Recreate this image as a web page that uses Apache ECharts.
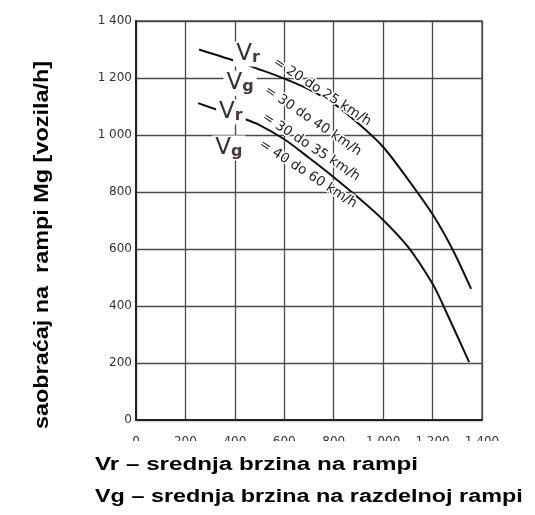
<!DOCTYPE html>
<html>
<head>
<meta charset="utf-8">
<script src="https://cdn.jsdelivr.net/npm/echarts@6/dist/echarts.min.js"></script>
<style>
  html, body { margin: 0; padding: 0; background: #fff; }
  #chart { width: 535px; height: 515px; }
</style>
</head>
<body>
<div id="chart"></div>
<script>
// Ramp capacity curves: flow on the ramp Mg [veh/h] against main flow
const xTicks = [0, 200, 400, 600, 800, 1000, 1200, 1400];
const yTicks = [0, 200, 400, 600, 800, 1000, 1200, 1400];

// Vr = 20..25 km/h, Vg = 30..40 km/h
const upperX = [255, 400, 500, 600, 700, 800, 900, 1000, 1100, 1200, 1280, 1356];
const upperY = [1300, 1260, 1230, 1198, 1160, 1110, 1040, 958, 845, 722, 600, 460];

// Vr = 30..35 km/h, Vg = 40..60 km/h
const lowerX = [251, 330, 433, 500, 600, 700, 800, 900, 1000, 1100, 1200, 1240, 1348];
const lowerY = [1112, 1088, 1058, 1035, 985, 920, 852, 780, 702, 608, 478, 408, 203];

const curveNotes = ['= 20 do 25 km/h', '= 30 do 40 km/h', '= 30 do 35 km/h', '= 40 do 60 km/h'];
const speedSymbols = [['V', 'r'], ['V', 'g'], ['V', 'r'], ['V', 'g']];

const yTitle = 'saobraćaj na  rampi Mg [vozila/h]';
const legendLines = ['Vr – srednja brzina na rampi', 'Vg – srednja brzina na razdelnoj rampi'];

// placement of the curve annotations, in axis units
const notePlace = [
  { at: [753, 1151], angle: 33 },
  { at: [716, 1049], angle: 34 },
  { at: [708, 958], angle: 33 },
  { at: [696, 863], angle: 33 }
];
const symbolPlace = [[453, 1284], [421, 1182], [384, 1081], [376, 954]];
const legendStretch = [1.345, 1.3];

const zip = (xs, ys) => xs.map((x, i) => [x, ys[i]]);
const fmt = v => v >= 1000 ? String(v).replace(/(\d)(\d{3})$/, '$1 $2') : String(v);

const chart = echarts.init(document.getElementById('chart'), null, { renderer: 'canvas' });

const gridCol = '#4a4a4a';
const tickFont = { fontSize: 12, color: '#333', fontFamily: 'DejaVu Sans', formatter: fmt };
const option = {
  animation: false,
  backgroundColor: '#fff',
  grid: {
    left: 136, top: 21, width: 346, height: 399,
    show: true, borderColor: gridCol, borderWidth: 1.3, backgroundColor: '#fff'
  },
  xAxis: {
    type: 'value', min: xTicks[0], max: xTicks[xTicks.length - 1], interval: 200,
    axisLine: { show: true, lineStyle: { color: '#222', width: 2 } },
    axisTick: { show: false },
    splitLine: { show: true, lineStyle: { color: gridCol, width: 1.3 } },
    axisLabel: Object.assign({ margin: 16 }, tickFont)
  },
  yAxis: {
    type: 'value', min: yTicks[0], max: yTicks[yTicks.length - 1], interval: 200,
    axisLine: { show: true, lineStyle: { color: '#222', width: 2 } },
    axisTick: { show: false },
    splitLine: { show: true, lineStyle: { color: gridCol, width: 1.3 } },
    axisLabel: Object.assign({ margin: 4 }, tickFont)
  },
  series: [
    { type: 'line', data: zip(upperX, upperY), smooth: 0.3, showSymbol: false,
      lineStyle: { color: '#111', width: 2 }, z: 3 },
    { type: 'line', data: zip(lowerX, lowerY), smooth: 0.3, showSymbol: false,
      lineStyle: { color: '#111', width: 2 }, z: 3 }
  ]
};
chart.setOption(option);

// annotations anchored to axis coordinates
const graphics = [];
curveNotes.forEach((txt, i) => {
  const p = chart.convertToPixel({ gridIndex: 0 }, notePlace[i].at);
  graphics.push({
    type: 'text', x: p[0], y: p[1], rotation: -notePlace[i].angle * Math.PI / 180, z: 10,
    style: {
      text: txt, fontSize: 13.5, fontFamily: 'DejaVu Sans', fill: '#222',
      align: 'center', verticalAlign: 'middle',
      stroke: '#fff', lineWidth: 3, strokeFirst: true
    }
  });
});
speedSymbols.forEach((s, i) => {
  const p = chart.convertToPixel({ gridIndex: 0 }, symbolPlace[i]);
  graphics.push({
    type: 'text', x: p[0], y: p[1], z: 11,
    style: {
      text: '{v|' + s[0] + '}{s|' + s[1] + '}',
      align: 'center', verticalAlign: 'middle',
      backgroundColor: '#fff', padding: [1, 3],
      rich: {
        v: { fontSize: 23, fontFamily: 'DejaVu Sans', fill: '#333', color: '#333', verticalAlign: 'bottom' },
        s: { fontSize: 16, fontFamily: 'DejaVu Sans', fill: '#4a3a3a', color: '#4a3a3a', fontWeight: 'bold', verticalAlign: 'bottom' }
      }
    }
  });
});
// vertical axis title
graphics.push({
  type: 'text', x: 42, y: 245, rotation: Math.PI / 2, scaleX: 1.17, z: 21,
  style: { text: yTitle, fontSize: 20, fontWeight: 'bold', fontFamily: 'Liberation Sans', fill: '#000', align: 'center', verticalAlign: 'middle' }
});
// white band under the axis numbers
graphics.push({ type: 'rect', shape: { x: 88, y: 441, width: 447, height: 14 }, style: { fill: '#fff' }, z: 20 });
legendLines.forEach((t, i) => {
  graphics.push({
    type: 'text', x: 95, y: 456 + i * 32, scaleX: legendStretch[i], z: 21,
    style: { text: t, fontSize: 18, fontWeight: 'bold', fontFamily: 'Liberation Sans', fill: '#000', align: 'left', verticalAlign: 'top' }
  });
});
chart.setOption({ graphic: graphics });
</script>
</body>
</html>
